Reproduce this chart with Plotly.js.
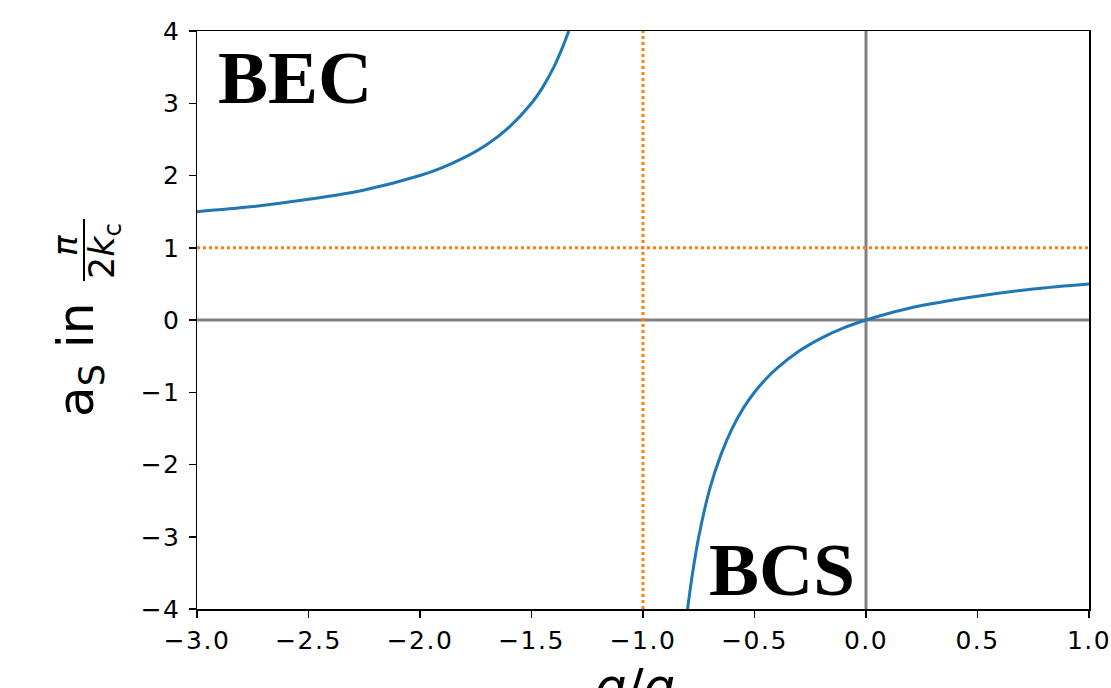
<!DOCTYPE html>
<html>
<head>
<meta charset="utf-8">
<script src="https://cdn.plot.ly/plotly-3.0.1.min.js"></script>
<style>
html,body{margin:0;padding:0;background:#fff;}
#chart{width:1111px;height:688px;}
#chart .xtick text, #chart .ytick text{letter-spacing:1.5px;}
</style>
</head>
<body>
<div id="chart"></div>
<script>
// Values
const bec_x = [-3.0, -2.75, -2.5, -2.25, -2.0, -1.9, -1.8, -1.7, -1.6, -1.5, -1.45, -1.4, -1.36, -1.333];
const bec_y = [1.5, 1.57, 1.67, 1.8, 2.0, 2.11, 2.25, 2.43, 2.67, 3.0, 3.22, 3.5, 3.78, 4.0];
const bcs_x = [-0.8, -0.78, -0.75, -0.7, -0.65, -0.6, -0.55, -0.5, -0.45, -0.4, -0.3, -0.2, -0.1, 0.0, 0.1, 0.25, 0.5, 0.75, 1.0];
const bcs_y = [-4.0, -3.55, -3.0, -2.33, -1.86, -1.5, -1.22, -1.0, -0.82, -0.67, -0.43, -0.25, -0.11, 0.0, 0.09, 0.2, 0.33, 0.43, 0.5];
const x_range = [-3.0, 1.0];
const y_range = [-4, 4];
const x_ticks = [-3.0, -2.5, -2.0, -1.5, -1.0, -0.5, 0.0, 0.5, 1.0];
const y_ticks = [-4, -3, -2, -1, 0, 1, 2, 3, 4];
const ref_zero = 0;          // gray reference lines at x=0 and y=0
const crit_x = -1.0;         // orange dotted vertical line
const crit_y = 1.0;          // orange dotted horizontal line

const L = 197, R = 22, T = 31, B = 79, W = 1111, H = 688;
const pw = W - L - R, ph = H - T - B;
const px = v => (v - L) / pw;
const py = v => (H - B - v) / ph;

const gray = '#808080', orange = '#ff7f0e', blue = '#1f77b4';

const traces = [
  {x: x_range, y: [ref_zero, ref_zero], mode: 'lines', line: {color: gray, width: 3}, hoverinfo: 'skip'},
  {x: [ref_zero, ref_zero], y: y_range, mode: 'lines', line: {color: gray, width: 3}, hoverinfo: 'skip'},
  {x: x_range, y: [crit_y, crit_y], mode: 'lines', line: {color: orange, width: 3, dash: 'dot'}, hoverinfo: 'skip'},
  {x: [crit_x, crit_x], y: y_range, mode: 'lines', line: {color: orange, width: 3, dash: 'dot'}, hoverinfo: 'skip'},
  {x: bec_x, y: bec_y, mode: 'lines', line: {color: blue, width: 3, shape: 'spline'}},
  {x: bcs_x, y: bcs_y, mode: 'lines', line: {color: blue, width: 3, shape: 'spline'}}
];

const axisCommon = {
  showgrid: false, zeroline: false,
  showline: true, mirror: true, linecolor: '#000', linewidth: 1.5,
  ticks: 'outside', ticklen: 7, tickwidth: 1.5, tickcolor: '#000',
  tickfont: {family: 'DejaVu Sans', size: 25, color: '#000'}
};

const layout = {
  width: W, height: H,
  margin: {l: L, r: R, t: T, b: B},
  paper_bgcolor: '#fff', plot_bgcolor: '#fff',
  showlegend: false,
  xaxis: Object.assign({}, axisCommon, {range: x_range, tickvals: x_ticks, tickformat: '.1f', ticklabelstandoff: 1}),
  yaxis: Object.assign({}, axisCommon, {range: y_range, tickvals: y_ticks, ticklabelstandoff: 3}),
  shapes: [
    {type: 'line', xref: 'paper', yref: 'paper', x0: px(84), x1: px(84), y0: py(219), y1: py(281), line: {color: '#000', width: 2}}
  ],
  annotations: [
    {text: '<b>BEC</b>', xref: 'paper', yref: 'paper', x: px(295), y: py(77), xanchor: 'center', yanchor: 'middle', showarrow: false,
     font: {family: 'Liberation Serif', size: 75, color: '#000'}},
    {text: '<b>BCS</b>', xref: 'paper', yref: 'paper', x: px(782), y: py(569), xanchor: 'center', yanchor: 'middle', showarrow: false,
     font: {family: 'Liberation Serif', size: 75, color: '#000'}},
    {text: 'a<sub>S</sub> in', xref: 'paper', yref: 'paper', x: px(80), y: py(360), xanchor: 'center', yanchor: 'middle', showarrow: false,
     textangle: -90, font: {family: 'DejaVu Sans', size: 50, color: '#000'}},
    {text: '<i>π</i>', xref: 'paper', yref: 'paper', x: px(65), y: py(246), xanchor: 'center', yanchor: 'middle', showarrow: false,
     textangle: -90, font: {family: 'DejaVu Sans', size: 34, color: '#000'}},
    {text: '2<i>k</i><sub>c</sub>', xref: 'paper', yref: 'paper', x: px(105), y: py(251), xanchor: 'center', yanchor: 'middle', showarrow: false,
     textangle: -90, font: {family: 'DejaVu Sans', size: 35, color: '#000'}},
    {text: '<i>g</i>/<i>g</i><sub>c</sub>', xref: 'paper', yref: 'paper', x: px(645), y: py(656), xanchor: 'center', yanchor: 'top', showarrow: false,
     font: {family: 'DejaVu Sans', size: 50, color: '#000'}}
  ]
};

Plotly.newPlot('chart', traces, layout, {staticPlot: true, displayModeBar: false});
</script>
</body>
</html>
